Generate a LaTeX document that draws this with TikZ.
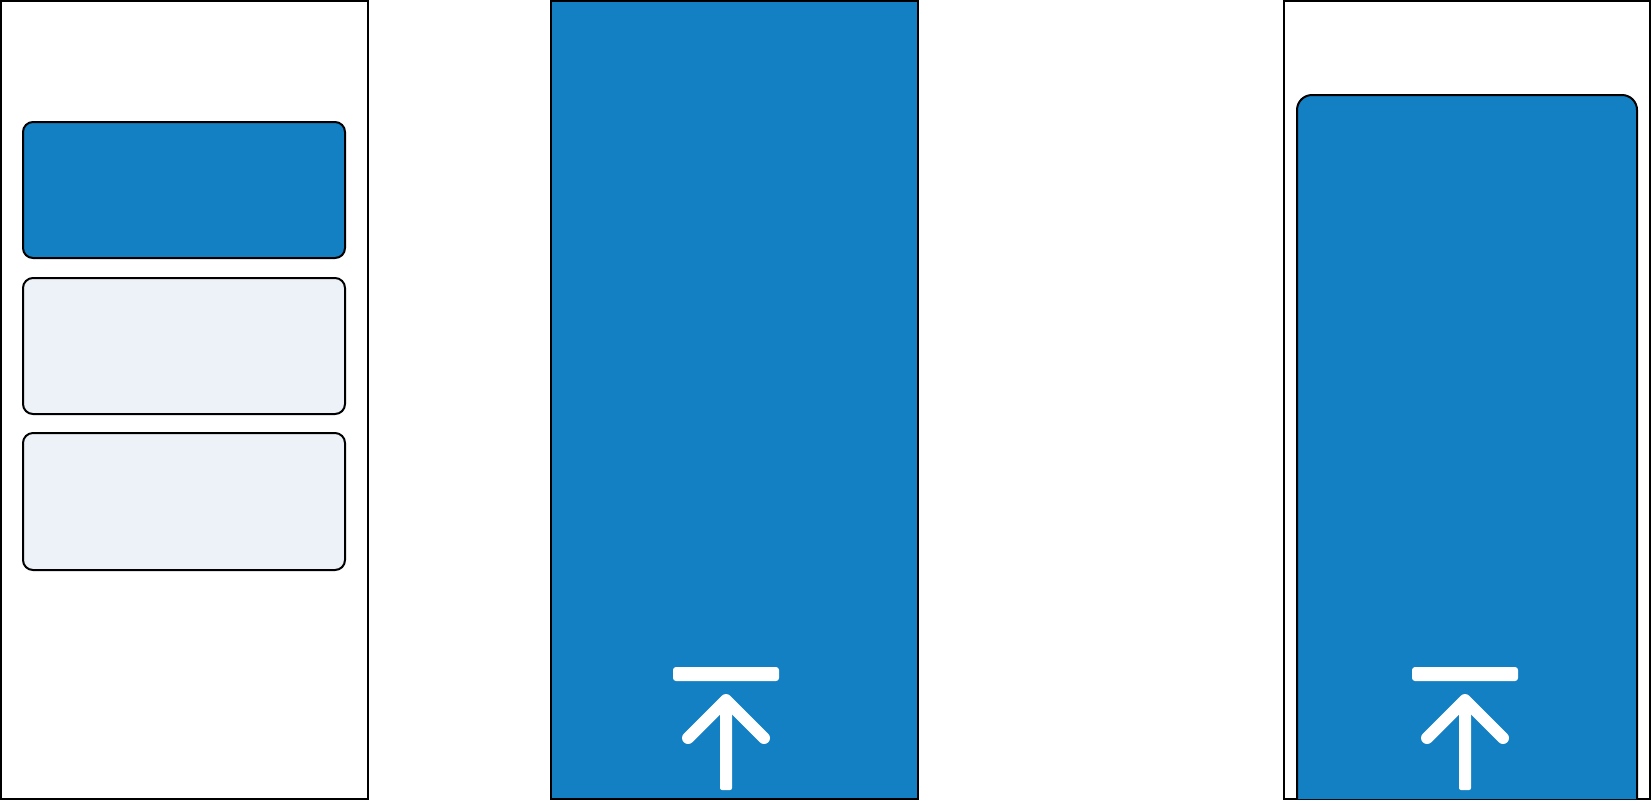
\documentclass[tikz,border=0pt]{standalone}
\usepackage{xcolor}
\usepackage{tikz}
\definecolor{panelblue}{RGB}{19,128,196}
\definecolor{panelpale}{RGB}{237,242,248}
\tikzset{
  frame/.style={draw=black,line width=1pt},
  card/.style={draw=black,line width=1pt,rounded corners=5pt},
  totop/.pic={
    \fill[white,rounded corners=1.5pt] (-53,667) rectangle (53,681);
    \draw[white,line width=6pt,line cap=round,line join=round] (-38,738) -- (0,700) -- (38,738);
    \fill[white,rounded corners=1pt] (-6,702) rectangle (6,790);
  }
}
\begin{document}
\begin{tikzpicture}[x=0.5pt,y=-0.5pt]
			\useasboundingbox (0,0) rectangle (1652,800);
			% left panel with three cards
			\draw[frame,fill=white] (1,1) rectangle (368,799);
			\draw[card,fill=panelblue] (23,122) rectangle (345,258);
			\draw[card,fill=panelpale] (23,278) rectangle (345,414);
			\draw[card,fill=panelpale] (23,433) rectangle (345,570);
			% middle panel
			\draw[frame,fill=panelblue] (551,1) rectangle (918,799);
			\pic at (726,0) {totop};
			% right panel with tall card
			\draw[frame,fill=white] (1284,1) rectangle (1650,799);
			\draw[frame,fill=panelblue,rounded corners=7.5pt] (1297,799) -- (1297,95) -- (1637,95) [sharp corners] -- (1637,799);
			\pic at (1465,0) {totop};
		\end{tikzpicture}
\end{document}
